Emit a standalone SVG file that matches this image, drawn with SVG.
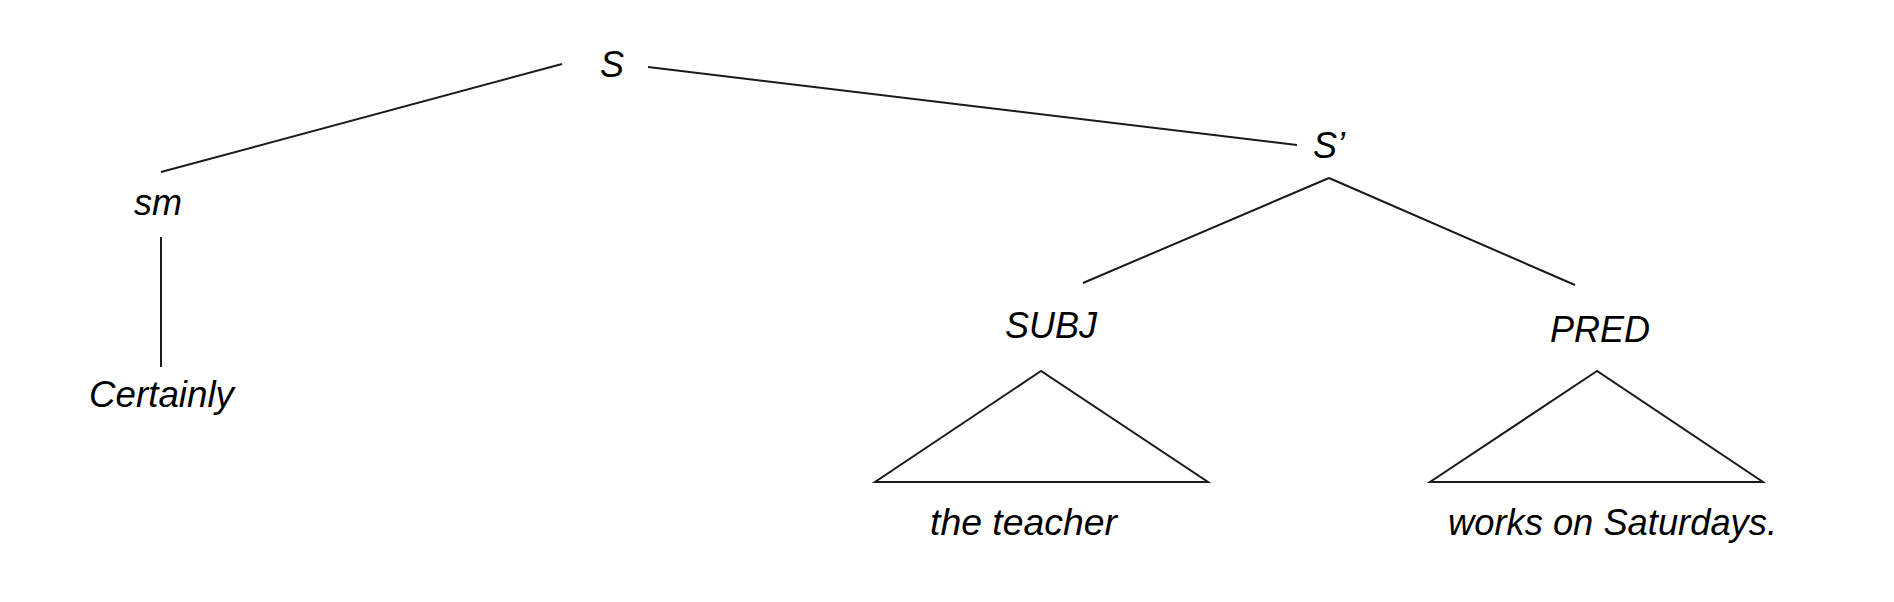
<svg xmlns="http://www.w3.org/2000/svg" width="1894" height="602" viewBox="0 0 1894 602">
<style>
text{font-family:"Liberation Sans",Arial,sans-serif;font-style:italic;font-size:36px;fill:#000}
.e{stroke:#1a1a1a;stroke-width:2;fill:none}
</style>
<rect width="1894" height="602" fill="#fff"/>
<g id="connectors">
<line class="e" x1="562" y1="64" x2="161" y2="172"/>
<line class="e" x1="648" y1="67" x2="1297" y2="145"/>
<line class="e" x1="161" y1="237" x2="161" y2="367"/>
<line class="e" x1="1329" y1="178" x2="1083" y2="283"/>
<line class="e" x1="1329" y1="178" x2="1575" y2="285"/>
</g>
<g id="S"><text x="600" y="77">S</text></g>
<g id="Sprime"><text x="1313" y="158">S’</text></g>
<g id="sm"><text x="134" y="215">sm</text></g>
<g id="Certainly"><text x="89" y="407" textLength="145" lengthAdjust="spacingAndGlyphs">Certainly</text></g>
<g id="SUBJ"><text x="1005" y="338">SUBJ</text></g>
<g id="PRED"><text x="1550" y="342">PRED</text></g>
<g id="subj-tri"><polygon class="e" points="1041,371 875,482 1208,482"/><text x="930" y="535" textLength="187" lengthAdjust="spacingAndGlyphs">the teacher</text></g>
<g id="pred-tri"><polygon class="e" points="1597,371 1430,482 1763,482"/><text x="1448" y="535" textLength="329" lengthAdjust="spacingAndGlyphs">works on Saturdays.</text></g>
</svg>
